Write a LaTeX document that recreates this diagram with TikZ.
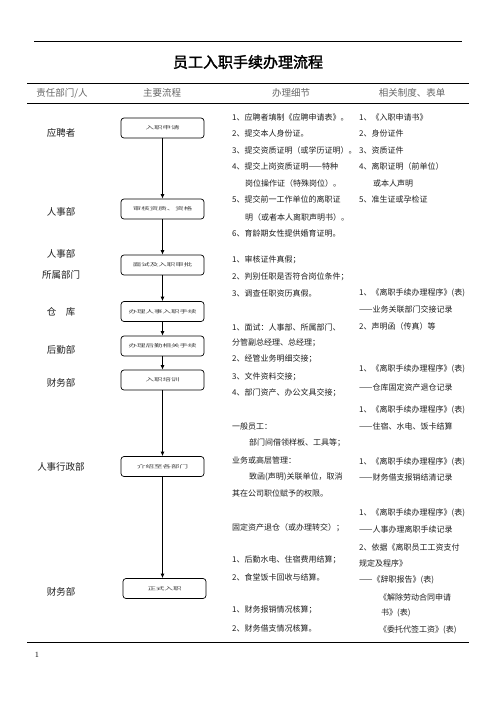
\documentclass[tikz,border=0pt]{standalone}
\usepackage{fontspec}
\newfontfamily\cjk{Noto Sans CJK SC}
\newfontfamily\cjkb[FakeBold=2]{Noto Sans CJK SC}
\usetikzlibrary{arrows.meta}
\tikzset{
  flowbox/.style={draw, rounded corners=3pt, minimum width=83pt, minimum height=20pt,
    line width=0.7pt, inner sep=0pt, font=\cjk\fontsize{8.5}{9}\selectfont, text=black!75},
  dept/.style={inner sep=0pt, font=\cjk\fontsize{9.5}{10}\selectfont, text=black!88},
  det/.style={anchor=west, inner sep=0pt, font=\cjk\fontsize{8}{9}\selectfont, text=black!88},
  hdr/.style={inner sep=0pt, font=\cjk\fontsize{9.5}{10}\selectfont, text=black!60},
  arr/.style={-{Latex[length=4.5pt,width=3.8pt]}, line width=0.7pt},
  rule/.style={line width=0.8pt}
}
\newcommand{\bxt}[1]{\raisebox{-2pt}{\scalebox{1}[0.55]{#1}}}
\begin{document}
\begin{tikzpicture}[x=1pt,y=-1pt]
\useasboundingbox[fill=white] (0,0) rectangle (496,702);
% rules
\coordinate (t1a) at (34,41); \coordinate (t1b) at (462,41);
\coordinate (t2a) at (27,83); \coordinate (t2b) at (469,83);
\coordinate (t3a) at (27,103); \coordinate (t3b) at (469,103);
\coordinate (t4a) at (27,642); \coordinate (t4b) at (469,642);
\draw[rule] (t1a) -- (t1b);
\draw[rule] (t2a) -- (t2b);
\draw[rule] (t3a) -- (t3b);
\draw[rule] (t4a) -- (t4b);
% title
\node[inner sep=0pt, font=\cjkb\fontsize{15}{16}\selectfont] (title) at (248,62) {员工入职手续办理流程};
\node[inner sep=0pt, font=\fontsize{8}{9}\selectfont] (pg) at (37,655) {1};
% header
\node[hdr] (h1) at (62,93) {责任部门/人};
\node[hdr] (h2) at (162,93) {主要流程};
\node[hdr] (h3) at (291,93) {办理细节};
\node[hdr] (h4) at (412,93) {相关制度、表单};
% departments
\node[dept] (d1) at (61,133) {应聘者};
\node[dept] (d2) at (61,212) {人事部};
\node[dept] (d3) at (61,254) {人事部};
\node[dept] (d4) at (61,275) {所属部门};
\node[dept] (d5) at (61,312) {仓\quad 库};
\node[dept] (d6) at (61,350) {后勤部};
\node[dept] (d7) at (61,383) {财务部};
\node[dept] (d8) at (61,467) {人事行政部};
\node[dept] (d9) at (61,592) {财务部};
% flow boxes
\node[flowbox] (b1) at (162.5,128) {\bxt{入职申请}};
\node[flowbox] (b2) at (162.5,209) {\bxt{审核资质、资格}};
\node[flowbox] (b3) at (162.5,265) {\bxt{面试及入职审批}};
\node[flowbox] (b4) at (162.5,311.5) {\bxt{办理人事入职手续}};
\node[flowbox] (b5) at (162.5,346) {\bxt{办理后勤相关手续}};
\node[flowbox] (b6) at (162.5,380) {\bxt{入职培训}};
\node[flowbox] (b7) at (162.5,466.5) {\bxt{介绍至各部门}};
\node[flowbox] (b8) at (164.5,588.5) {\bxt{正式入职}};
\draw[arr] (b1) -- (b2);
\draw[arr] (b2) -- (b3);
\draw[arr] (b3) -- (b4);
\draw[arr] (b4) -- (b5);
\draw[arr] (b5) -- (b6);
\draw[arr] (b6) -- (b7);
\draw[arr] (b7.south) -- (b7.south |- b8.north);
% details
\node[det] (m1) at (232,117) {1、应聘者填制《应聘申请表》。};
\node[det] (m2) at (232,133) {2、提交本人身份证。};
\node[det] (m3) at (232,150) {3、提交资质证明（或学历证明）。};
\node[det] (m4) at (232,166) {4、提交上岗资质证明——特种};
\node[det] (m5) at (245,183) {岗位操作证（特殊岗位）。};
\node[det] (m6) at (232,199) {5、提交前一工作单位的离职证};
\node[det] (m7) at (245,217) {明（或者本人离职声明书）。};
\node[det] (m8) at (232,233) {6、育龄期女性提供婚育证明。};
\node[det] (m9) at (232,260) {1、审核证件真假；};
\node[det] (m10) at (232,277) {2、判别任职是否符合岗位条件；};
\node[det] (m11) at (232,293) {3、调查任职资历真假。};
\node[det] (m12) at (232,327) {1、面试：人事部、所属部门、};
\node[det] (m13) at (232,343) {分管副总经理、总经理；};
\node[det] (m14) at (232,359) {2、经管业务明细交接；};
\node[det] (m15) at (232,377) {3、文件资料交接；};
\node[det] (m16) at (232,393) {4、部门资产、办公文具交接；};
\node[det] (m17) at (232,426) {一般员工：};
\node[det] (m18) at (249,443) {部门间借领样板、工具等；};
\node[det] (m19) at (232,460) {业务或高层管理：};
\node[det] (m20) at (249,477) {致函(声明)关联单位，取消};
\node[det] (m21) at (232,493) {其在公司职位赋予的权限。};
\node[det] (m22) at (232,528) {固定资产退仓（或办理转交）；};
\node[det] (m23) at (232,560) {1、后勤水电、住宿费用结算；};
\node[det] (m24) at (232,577) {2、食堂饭卡回收与结算。};
\node[det] (m25) at (232,610) {1、财务报销情况核算；};
\node[det] (m26) at (232,628) {2、财务借支情况核算。};
% forms
\node[det] (r1) at (359,117) {1、《入职申请书》};
\node[det] (r2) at (359,133) {2、身份证件};
\node[det] (r3) at (359,150) {3、资质证件};
\node[det] (r4) at (359,166) {4、离职证明（前单位）};
\node[det] (r5) at (373,183) {或本人声明};
\node[det] (r6) at (359,199) {5、准生证或孕检证};
\node[det] (r7) at (359,293) {1、《离职手续办理程序》(表)};
\node[det] (r8) at (359,309) {——业务关联部门交接记录};
\node[det] (r9) at (359,326) {2、声明函（传真）等};
\node[det] (r10) at (359,369) {1、《离职手续办理程序》(表)};
\node[det] (r11) at (359,387) {——仓库固定资产退仓记录};
\node[det] (r12) at (359,410) {1、《离职手续办理程序》(表)};
\node[det] (r13) at (359,426) {——住宿、水电、饭卡结算};
\node[det] (r14) at (359,462) {1、《离职手续办理程序》(表)};
\node[det] (r15) at (359,477) {——财务借支报销结清记录};
\node[det] (r16) at (359,513) {1、《离职手续办理程序》(表)};
\node[det] (r17) at (359,529) {——人事办理离职手续记录};
\node[det] (r18) at (359,547) {2、依据《离职员工工资支付};
\node[det] (r19) at (359,563) {规定及程序》};
\node[det] (r20) at (359,580) {——《辞职报告》(表)};
\node[det] (r21) at (379,597) {《解除劳动合同申请};
\node[det] (r22) at (381,613) {书》(表)};
\node[det] (r23) at (379,630) {《委托代签工资》(表)};
\end{tikzpicture}
\end{document}
